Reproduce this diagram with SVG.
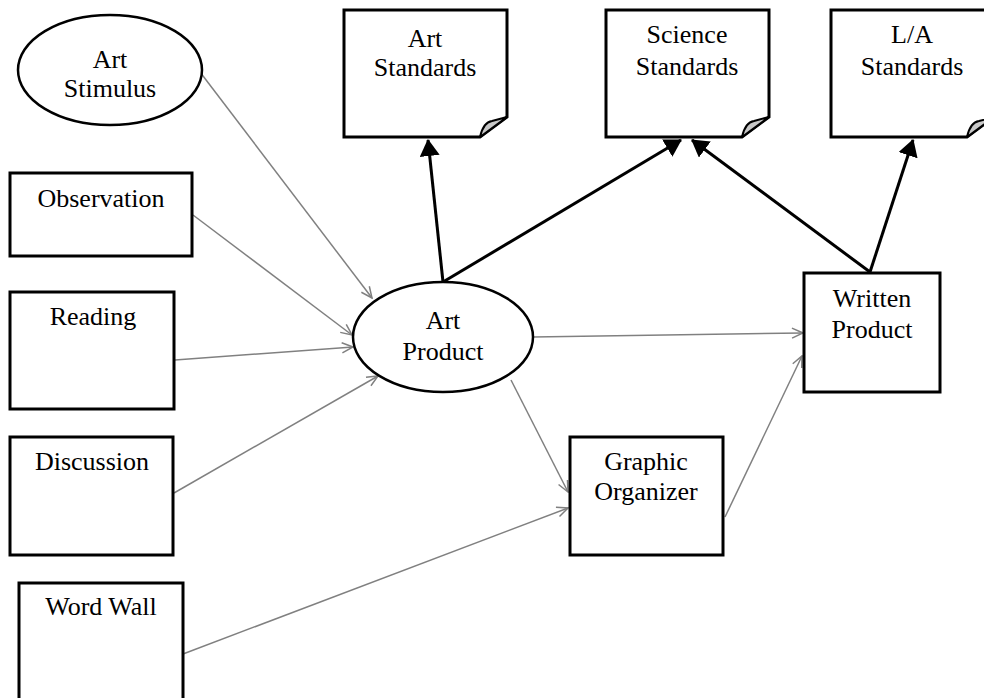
<svg xmlns="http://www.w3.org/2000/svg" width="984" height="698" viewBox="0 0 984 698">
<style>
.box{fill:#fff;stroke:#000;stroke-width:3}
.ell{fill:#fff;stroke:#000;stroke-width:2.5}
.curl{fill:#c8c8c8;stroke:#000;stroke-width:2;stroke-linejoin:round}
.t{font-family:"Liberation Serif","Times New Roman",serif;font-size:26px;fill:#000;text-anchor:middle}
.thin{fill:none;stroke:#808080;stroke-width:1.5;marker-end:url(#open)}
.thick{fill:none;stroke:#000;stroke-width:3;marker-end:url(#solid)}
</style>
<defs>
<marker id="open" markerWidth="13" markerHeight="12" refX="12" refY="6" orient="auto" markerUnits="userSpaceOnUse">
<path d="M1,1 L12,6 L1,11" fill="none" stroke="#808080" stroke-width="1.5"/>
</marker>
<marker id="solid" markerWidth="17" markerHeight="20" refX="16" refY="10" orient="auto" markerUnits="userSpaceOnUse">
<path d="M0,0 L17,10 L0,20 Z" fill="#000"/>
</marker>
</defs>
<rect width="984" height="698" fill="#fff"/>

<g id="connectors">
<path class="thin" d="M200,72 L372,298"/>
<path class="thin" d="M193,215 L352,335"/>
<path class="thin" d="M175,360 L353,347"/>
<path class="thin" d="M174,493 L378,376"/>
<path class="thin" d="M183,654 L568,508"/>
<path class="thin" d="M511,380 L568,492"/>
<path class="thin" d="M533,337 L803,333"/>
<path class="thin" d="M725,517 L802,356"/>
<path class="thick" d="M443,282 L428,140"/>
<path class="thick" d="M443,282 L681,140"/>
<path class="thick" d="M870,272 L692,140"/>
<path class="thick" d="M870,272 L913,140"/>
</g>

<g id="art-stimulus">
<ellipse class="ell" cx="110" cy="70" rx="92" ry="55"/>
<text class="t" x="110" y="68">Art</text>
<text class="t" x="110" y="97">Stimulus</text>
</g>

<g id="observation">
<rect class="box" x="10" y="173" width="182" height="83"/>
<text class="t" x="101" y="207">Observation</text>
</g>

<g id="reading">
<rect class="box" x="10" y="292" width="164" height="117"/>
<text class="t" x="93" y="325">Reading</text>
</g>

<g id="discussion">
<rect class="box" x="10" y="437" width="163" height="118"/>
<text class="t" x="92" y="470">Discussion</text>
</g>

<g id="word-wall">
<rect class="box" x="19" y="583" width="164" height="130"/>
<text class="t" x="101" y="615">Word Wall</text>
</g>

<g id="art-product">
<ellipse class="ell" cx="443" cy="337" rx="90" ry="55"/>
<text class="t" x="443" y="329">Art</text>
<text class="t" x="443" y="360">Product</text>
</g>

<g id="art-standards">
<path class="box" d="M344,10 H507 V117 L480,137 H344 Z"/>
<path class="curl" d="M480,137 C482,128 485,122 492,121 L507,117 Z"/>
<text class="t" x="425" y="47">Art</text>
<text class="t" x="425" y="76">Standards</text>
</g>

<g id="science-standards">
<path class="box" d="M606,10 H769 V117 L742,137 H606 Z"/>
<path class="curl" d="M742,137 C744,128 747,122 754,121 L769,117 Z"/>
<text class="t" x="687" y="43">Science</text>
<text class="t" x="687" y="75">Standards</text>
</g>

<g id="la-standards">
<path class="box" d="M831,10 H994 V117 L967,137 H831 Z"/>
<path class="curl" d="M967,137 C969,128 972,122 979,121 L994,117 Z"/>
<text class="t" x="912" y="43">L/A</text>
<text class="t" x="912" y="75">Standards</text>
</g>

<g id="graphic-organizer">
<rect class="box" x="570" y="437" width="153" height="118"/>
<text class="t" x="646" y="470">Graphic</text>
<text class="t" x="646" y="500">Organizer</text>
</g>

<g id="written-product">
<rect class="box" x="804" y="273" width="136" height="119"/>
<text class="t" x="872" y="307">Written</text>
<text class="t" x="872" y="338">Product</text>
</g>
</svg>
